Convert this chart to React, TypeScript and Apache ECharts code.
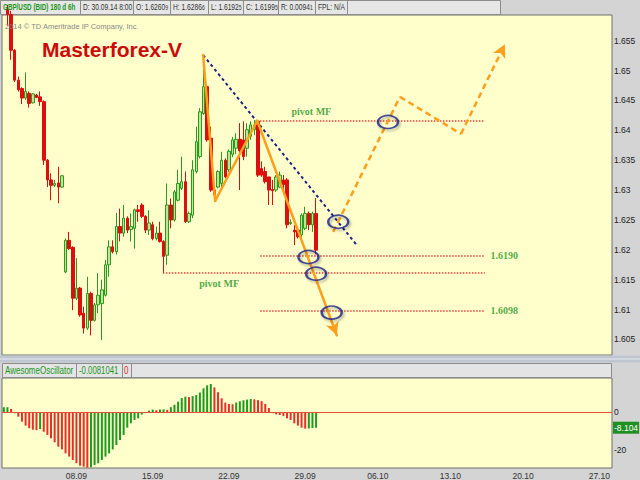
import React, { useEffect, useRef } from 'react';
import * as echarts from 'echarts';

// ---------- DATA ----------
const TOTAL_SLOTS = 168; // 6h bars shown on the time axis (history + empty future)
const tickSlots = [20, 41, 62, 83, 103, 123, 143, 164];
const tickLabels = ['08.09', '15.09', '22.09', '29.09', '06.10', '13.10', '20.10', '27.10'];

const opens = [
  1.6625, 1.6603, 1.6594, 1.6534, 1.6484, 1.6470, 1.6454, 1.6462, 1.6446, 1.6459,
  1.6456, 1.6448, 1.6350, 1.6317, 1.6308, 1.6312, 1.6305, 1.6163, 1.6216, 1.6204,
  1.6119, 1.6136, 1.6094, 1.6069, 1.6127, 1.6082, 1.6108, 1.6110, 1.6124, 1.6175,
  1.6205, 1.6197, 1.6239, 1.6228, 1.6253, 1.6234, 1.6236, 1.6267, 1.6275, 1.6256,
  1.6233, 1.6242, 1.6219, 1.6228, 1.6214, 1.6191, 1.6275, 1.6250, 1.6283, 1.6303,
  1.6314, 1.6247, 1.6258, 1.6331, 1.6356, 1.6428, 1.6473, 1.6387, 1.6300, 1.6305,
  1.6311, 1.6350, 1.6334, 1.6360, 1.6370, 1.6385, 1.6384, 1.6370, 1.6390, 1.6401,
  1.6415, 1.6336, 1.6331, 1.6322, 1.6301, 1.6300, 1.6305, 1.6317, 1.6317, 1.6244,
  1.6233, 1.6233, 1.6225, 1.6236, 1.6261, 1.6242, 1.62609,
];
const closes = [
  1.6603, 1.6594, 1.6534, 1.6484, 1.6468, 1.6454, 1.6465, 1.6445, 1.6461, 1.6455,
  1.6448, 1.6350, 1.6317, 1.6308, 1.6311, 1.6305, 1.6324, 1.6216, 1.6202, 1.6119,
  1.6136, 1.6091, 1.6069, 1.6127, 1.6082, 1.6108, 1.6124, 1.6133, 1.6175, 1.6205,
  1.6197, 1.6239, 1.6228, 1.6253, 1.6233, 1.6239, 1.6267, 1.6264, 1.6256, 1.6233,
  1.6245, 1.6219, 1.6228, 1.6214, 1.6189, 1.6275, 1.6250, 1.6297, 1.6311, 1.6314,
  1.6247, 1.6261, 1.6334, 1.6381, 1.6431, 1.6473, 1.6384, 1.6300, 1.6292, 1.6331,
  1.6350, 1.6322, 1.6365, 1.6384, 1.6385, 1.6366, 1.6356, 1.6401, 1.6409, 1.6409,
  1.6325, 1.6325, 1.6314, 1.6300, 1.6299, 1.6322, 1.6325, 1.6309, 1.6242, 1.6246,
  1.6230, 1.6222, 1.6258, 1.6261, 1.6242, 1.6261, 1.61995,
];
const lows = [
  1.6598, 1.6575, 1.6518, 1.6481, 1.6465, 1.6444, 1.6451, 1.6438, 1.6445, 1.6454,
  1.6441, 1.6342, 1.6305, 1.6283, 1.6305, 1.6278, 1.6304, 1.6161, 1.6200, 1.6099,
  1.6116, 1.6088, 1.6060, 1.6066, 1.6057, 1.6080, 1.6094, 1.6049, 1.6122, 1.6155,
  1.6194, 1.6192, 1.6214, 1.6222, 1.6228, 1.6214, 1.6202, 1.6247, 1.6253, 1.6228,
  1.6225, 1.6216, 1.6216, 1.6212, 1.6161, 1.6175, 1.6236, 1.6247, 1.6281, 1.6300,
  1.6245, 1.6245, 1.6253, 1.6328, 1.6353, 1.6426, 1.6381, 1.6297, 1.6281, 1.6303,
  1.6305, 1.6320, 1.6330, 1.6355, 1.6360, 1.6300, 1.6350, 1.6356, 1.6384, 1.6392,
  1.6322, 1.6322, 1.6311, 1.6275, 1.6275, 1.6297, 1.6303, 1.6300, 1.6236, 1.6242,
  1.6208, 1.6219, 1.6214, 1.6233, 1.6233, 1.6230, 1.61925,
];
const highs = [
  1.6632, 1.6610, 1.6600, 1.6536, 1.6490, 1.6472, 1.6497, 1.6465, 1.6462, 1.6461,
  1.6465, 1.6450, 1.6352, 1.6328, 1.6317, 1.6339, 1.6325, 1.6219, 1.6230, 1.6206,
  1.6186, 1.6138, 1.6105, 1.6155, 1.6130, 1.6111, 1.6161, 1.6150, 1.6183, 1.6216,
  1.6216, 1.6262, 1.6269, 1.6275, 1.6256, 1.6261, 1.6269, 1.6275, 1.6278, 1.6258,
  1.6266, 1.6247, 1.6239, 1.6247, 1.6216, 1.6311, 1.6286, 1.6300, 1.6334, 1.6356,
  1.6331, 1.6264, 1.6350, 1.6406, 1.6437, 1.6526, 1.6476, 1.6406, 1.6303, 1.6333,
  1.6364, 1.6353, 1.6368, 1.6389, 1.6395, 1.6412, 1.6415, 1.6412, 1.6415, 1.6417,
  1.6416, 1.6348, 1.6339, 1.6322, 1.6317, 1.6325, 1.6331, 1.6325, 1.6320, 1.6251,
  1.6241, 1.6236, 1.6261, 1.6272, 1.6264, 1.6264, 1.62866,
];

// Awesome Oscillator (x1000)
const aoValues = [
  2.6, 2.7, 1.8, -0.5, -2.3, -4.9, -7.0, -8.4, -9.2, -9.4,
  -8.8, -10.2, -11.9, -13.7, -15.8, -18.1, -19.5, -21.6, -23.3, -25.1,
  -26.8, -28.1, -28.6, -29.1, -28.9, -27.7, -26.8, -25.1, -23.3, -21.6,
  -19.5, -17.2, -14.6, -11.9, -8.1, -5.8, -4.0, -3.2, -1.2, -0.3,
  0.9, 1.4, 1.1, 1.5, 1.6, 1.3, 2.7, 4.0, 5.6, 7.5,
  8.2, 8.0, 8.5, 9.1, 10.4, 12.6, 14.2, 14.9, 13.1, 10.6,
  7.4, 5.1, 4.4, 4.2, 5.1, 5.8, 6.3, 6.7, 7.0, 6.8,
  6.4, 5.9, 4.4, 2.3, -0.5, -1.1, -1.4, -1.9, -3.2, -4.0,
  -5.8, -7.0, -8.1, -8.6, -8.5, -8.3, -8.1041,
];

// annotation geometry in (bar index, price)
const orangeWave = [[54.9, 1.6526], [58.2, 1.6282], [69.8, 1.6416], [91.7, 1.6057]];
const orangeForecast = [[90.7, 1.6230], [109.1, 1.6456], [125.9, 1.6394], [138.0, 1.6544]];
const blueTrend = [[54.9, 1.6526], [97.2, 1.6208]];
const pivotLevels = [1.6416, 1.6190, 1.6161, 1.6098];
const pivotStarts = [69.7, 70.6, 43.8, 70.6];
const pivotEnd = 132.5;
const circleMarks = [[92.1, 1.6247], [105.8, 1.6414], [83.9, 1.6188], [86.0, 1.6160], [90.3, 1.6095]];
const textMarks = [
  { name: 'pivot MF', at: [84.7, 1.6432], left: false },
  { name: 'pivot MF', at: [59.3, 1.6144], left: false },
  { name: '1.6190', at: [133.9, 1.6190], left: true },
  { name: '1.6098', at: [133.9, 1.6098], left: true },
];

const headerSymbol = 'GBP/USD (BID) 180 d 6h';
const headerDate = '30.09.14 8:00';
const copyrightText = '2014 © TD Ameritrade IP Company, Inc.';
const titleText = 'Masterforex-V';
const aoName = 'AwesomeOscillator';

// ---------- STYLE ----------
const SANS = "'Liberation Sans', Arial, sans-serif";
const SERIF = "'Liberation Serif', 'Times New Roman', serif";
const GREEN = '#2b9a1e';
const RED = '#dc0e0e';
const ORANGE = '#ff9f1c';
const NAVY = '#1c2386';
const PLOT_BG = '#ffffcc';
const NARROW_SCALE = 0.74;

function splitLast(v: number, d: number) {
  const s = v.toFixed(d);
  return [s.slice(0, -1), s.slice(-1)];
}

export default function App() {
  const ref = useRef<HTMLDivElement>(null);

  useEffect(() => {
    const chart = echarts.init(ref.current!, null, { renderer: 'svg' });

    const slotNames = Array.from({ length: TOTAL_SLOTS }, (_, i) => 'b' + i);
    const labelAt: Record<number, string> = {};
    tickSlots.forEach((s, k) => { labelAt[s] = tickLabels[k]; });

    const candles = opens.map((o, i) => [o, closes[i], lows[i], highs[i]]);
    const aoBars = aoValues.map((v, i) => ({
      value: v,
      itemStyle: { color: i === 0 || v > aoValues[i - 1] ? '#1f9a1f' : '#e8302a' },
    }));
    const lastAo = aoValues[aoValues.length - 1];
    const last = opens.length - 1;

    const seg = (a: number[], b: number[], arrow = false) => [
      { coord: a },
      { coord: b, symbol: arrow ? 'arrow' : 'none' },
    ];
    const polySegs = (pts: number[][], arrowEnd: boolean) =>
      pts.slice(0, -1).map((p, i) => seg(p, pts[i + 1], arrowEnd && i === pts.length - 2));

    // narrow-looking text: normal sans compressed horizontally
    const ntext = (x: number, y: number, text: string, fill: string, size: number, scale: number, bold = false) => ({
      type: 'text', x, y, scaleX: scale, silent: true, z: 20,
      style: { text, font: `${bold ? 'bold ' : ''}${size}px ${SANS}`, fill, verticalAlign: 'middle', align: 'left' },
    });

    // header graphics
    const headerSeps = [80, 133, 170, 208, 243, 278, 315, 347];
    const ohlc: [string, number][] = [
      ['O', opens[last]], ['H', highs[last]], ['L', lows[last]], ['C', closes[last]],
      ['R', highs[last] - lows[last]],
    ];
    const ohlcX = [136, 173, 211, 246, 281];
    const richHead = {
      a: { font: `9px ${SANS}`, fill: '#333' },
      s: { font: `7px ${SANS}`, fill: '#333' },
    };

    const graphic: any[] = [
      { type: 'rect', shape: { x: 0.5, y: 0.5, width: 500, height: 14 }, style: { fill: '#e6e6e6', stroke: '#8c8c8c', lineWidth: 1 }, silent: true },
      ...headerSeps.map((x) => ({ type: 'line', shape: { x1: x + 0.5, y1: 0, x2: x + 0.5, y2: 14 }, style: { stroke: '#8c8c8c', lineWidth: 1 }, silent: true })),
      ntext(3, 7.5, headerSymbol, '#1c961c', 9, 0.7, true),
      ntext(83, 7.5, 'D: ' + headerDate, '#333', 9, NARROW_SCALE),
      ...ohlc.map(([k, v], i) => {
        const [m, s] = splitLast(v, 5);
        return {
          type: 'text', x: ohlcX[i], y: 7.5, scaleX: NARROW_SCALE, silent: true, z: 20,
          style: { text: `{a|${k}: ${m}}{s|${s}}`, rich: richHead, verticalAlign: 'middle', align: 'left' },
        };
      }),
      ntext(318, 7.5, 'FPL: N/A', '#333', 9, NARROW_SCALE),
      // pane splitter
      { type: 'rect', shape: { x: 0, y: 355.5, width: 640, height: 7 }, style: { fill: '#bfc6d0' }, silent: true },
      { type: 'line', shape: { x1: 0, y1: 359, x2: 640, y2: 359 }, style: { stroke: '#e4e8ee', lineWidth: 1 }, silent: true },
      // AO header
      { type: 'rect', shape: { x: 2.5, y: 363.5, width: 609, height: 14 }, style: { fill: '#e4e4e4', stroke: '#8c8c8c', lineWidth: 1 }, silent: true },
      ...[76, 122, 131].map((x) => ({ type: 'line', shape: { x1: x + 0.5, y1: 363.5, x2: x + 0.5, y2: 377.5 }, style: { stroke: '#8c8c8c', lineWidth: 1 }, silent: true })),
      ntext(5, 371, aoName, '#1c961c', 10, 0.8),
      ntext(79, 371, (lastAo / 1000).toFixed(7), '#1c961c', 10, 0.78),
      ntext(124, 371, '0', '#e03030', 10, 0.8),
      // copyright & title
      { type: 'text', x: 5, y: 26, z: 10, silent: true, style: { text: copyrightText, font: `7.5px ${SANS}`, fill: '#8a8a8a', verticalAlign: 'middle' } },
      { type: 'text', x: 42, y: 49.5, z: 10, silent: true, style: { text: titleText, font: `bold 21px ${SANS}`, fill: '#cc0a0a', verticalAlign: 'middle' } },
    ];

    const isMultiple = (v: number, step: number) => Math.abs(v / step - Math.round(v / step)) < 1e-6;

    const option: any = {
      animation: false,
      backgroundColor: '#d4d4d4',
      grid: [
        { left: 2, right: 28, top: 15, height: 340, show: true, backgroundColor: PLOT_BG, borderColor: '#6e6e6e', borderWidth: 1 },
        { left: 2, right: 28, top: 378, height: 90, show: true, backgroundColor: PLOT_BG, borderColor: '#6e6e6e', borderWidth: 1 },
      ],
      xAxis: [
        { type: 'category', gridIndex: 0, data: slotNames, boundaryGap: true, show: false },
        { type: 'value', gridIndex: 0, min: -0.5, max: TOTAL_SLOTS - 0.5, show: false },
        {
          type: 'category', gridIndex: 1, data: slotNames, boundaryGap: true,
          axisLine: { show: false }, axisTick: { show: false }, splitLine: { show: false },
          axisLabel: {
            interval: (i: number) => labelAt[i] !== undefined,
            formatter: (_v: string, i: number) => labelAt[i] ?? '',
            color: '#333', fontSize: 8.5, fontFamily: SANS, margin: 3,
          },
        },
      ],
      yAxis: [
        {
          type: 'value', gridIndex: 0, position: 'right', min: 1.6024, max: 1.6593, splitNumber: 11,
          axisLine: { show: false }, axisTick: { show: false }, splitLine: { show: false },
          axisLabel: {
            formatter: (v: number) => (isMultiple(v, 0.005) ? String(+v.toFixed(4)) : ''),
            color: '#222', fontSize: 8.5, fontFamily: SANS, margin: 2,
          },
        },
        {
          type: 'value', gridIndex: 1, position: 'right', min: -29.3, max: 18.05, splitNumber: 2,
          axisLine: { show: false }, axisTick: { show: false }, splitLine: { show: false },
          axisLabel: {
            formatter: (v: number) => (isMultiple(v, 20) ? String(Math.round(v)) : ''),
            color: '#222', fontSize: 8.5, fontFamily: SANS, margin: 2,
          },
        },
      ],
      series: [
        {
          type: 'candlestick', xAxisIndex: 0, yAxisIndex: 0, data: candles, barWidth: 3, silent: true, z: 2,
          itemStyle: { color: '#c1e596', color0: RED, borderColor: GREEN, borderColor0: RED, borderWidth: 1 },
        },
        {
          type: 'line', xAxisIndex: 1, yAxisIndex: 0, data: [], silent: true, z: 3,
          markLine: {
            silent: true, animation: false, symbol: ['none', 'none'], label: { show: false },
            lineStyle: { color: '#e2403a', type: 'dotted', width: 1.5 },
            data: pivotLevels.map((p, i) => seg([pivotStarts[i], p], [pivotEnd, p])),
          },
        },
        {
          type: 'line', xAxisIndex: 1, yAxisIndex: 0, data: [], silent: true, z: 4,
          markLine: {
            silent: true, animation: false, symbol: ['none', 'none'], label: { show: false },
            lineStyle: { color: NAVY, type: [3, 3], width: 2 },
            data: polySegs(blueTrend, false),
          },
        },
        {
          type: 'line', xAxisIndex: 1, yAxisIndex: 0, data: [], silent: true, z: 5,
          markLine: {
            silent: true, animation: false, symbol: ['none', 'none'], symbolSize: [10, 13], label: { show: false },
            itemStyle: { color: ORANGE },
            lineStyle: { color: ORANGE, type: 'solid', width: 2.5, cap: 'round' },
            data: polySegs(orangeWave, true),
          },
        },
        {
          type: 'line', xAxisIndex: 1, yAxisIndex: 0, data: [], silent: true, z: 5,
          markLine: {
            silent: true, animation: false, symbol: ['none', 'none'], symbolSize: [10, 13], label: { show: false },
            itemStyle: { color: ORANGE },
            lineStyle: { color: ORANGE, type: [6, 4], width: 2.5 },
            data: polySegs(orangeForecast, true),
          },
        },
        {
          type: 'scatter', xAxisIndex: 1, yAxisIndex: 0, data: circleMarks, silent: true, z: 6,
          symbol: 'circle', symbolSize: [20, 13],
          itemStyle: { color: 'rgba(255,255,255,0)', borderColor: NAVY, borderWidth: 2, shadowBlur: 2, shadowColor: 'rgba(0,0,0,0.35)', shadowOffsetX: 1.5, shadowOffsetY: 2 },
        },
        {
          type: 'scatter', xAxisIndex: 1, yAxisIndex: 0, silent: true, z: 6, symbolSize: 1,
          itemStyle: { color: 'rgba(0,0,0,0)' },
          data: textMarks.map((t) => ({
            name: t.name, value: t.at,
            label: t.left ? { show: true, position: 'right', distance: 0 } : { show: true, position: 'inside' },
          })),
          label: { show: true, formatter: '{b}', color: '#1f921f', fontWeight: 'bold', fontSize: 10, fontFamily: SERIF },
        },
        {
          type: 'bar', xAxisIndex: 2, yAxisIndex: 1, data: aoBars, barWidth: 2, silent: true, z: 2,
          markLine: {
            silent: true, animation: false, symbol: ['none', 'none'], precision: 4,
            data: [
              { yAxis: 0, lineStyle: { color: '#e8503a', width: 1, type: 'solid' }, label: { show: false } },
              {
                yAxis: lastAo, lineStyle: { color: 'rgba(0,0,0,0)', width: 0 },
                label: {
                  show: true, position: 'end', distance: 1,
                  formatter: (p: any) => Number(p.value).toFixed(3),
                  backgroundColor: '#1f8f22', color: '#ffffff', padding: [2, 1, 1, 1],
                  fontSize: 8.5, fontFamily: SANS,
                },
              },
            ],
          },
        },
      ],
      graphic,
    };

    chart.setOption(option);
    return () => chart.dispose();
  }, []);

  return <div ref={ref} style={{ position: 'absolute', left: 0, top: 0, width: 640, height: 480 }} />;
}
